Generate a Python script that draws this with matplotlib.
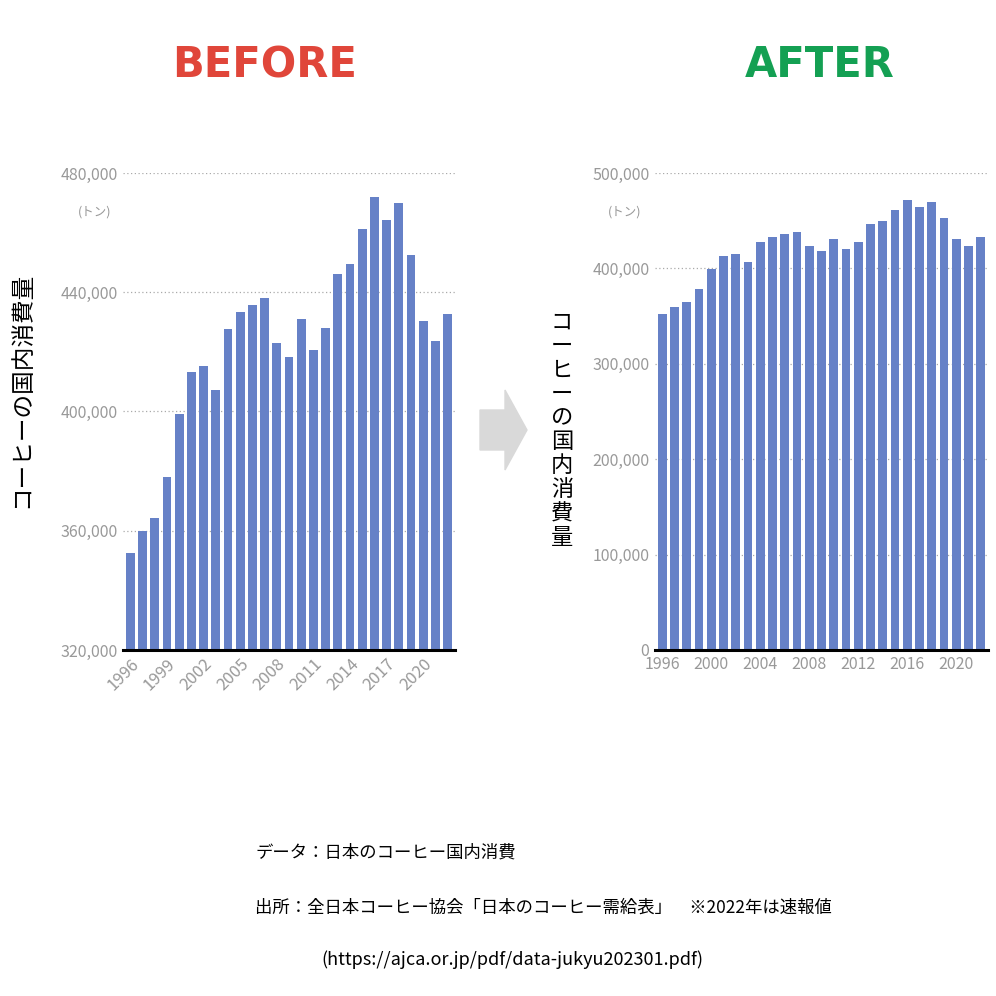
import matplotlib
matplotlib.use("Agg")
import matplotlib.pyplot as plt
from matplotlib.patches import FancyArrow

plt.rcParams['font.family'] = ['Noto Sans CJK JP', 'DejaVu Sans']

years = list(range(1996, 2023))
consumption = [352500, 359900, 364300, 378000, 399200, 413200, 415300, 407200, 427700,
               433400, 435700, 438100, 423000, 418300, 431000, 420600, 428000, 446100,
               449500, 461200, 472000, 464200, 469900, 452500, 430300, 423600, 432700]
before_ticks = [320000, 360000, 400000, 440000, 480000]
after_ticks = [0, 100000, 200000, 300000, 400000, 500000]
before_xticks = list(range(1996, 2023, 3))
after_xticks = list(range(1996, 2023, 4))
ylabel = "コーヒーの国内消費量"

BAR = "#6681C7"
GRAY = "#999999"

fig = plt.figure(figsize=(9.96, 9.96), dpi=100)
W = H = 996

def ax_at(x0, y0, x1, y1):
    return fig.add_axes([x0 / W, 1 - y1 / H, (x1 - x0) / W, (y1 - y0) / H])

def style(ax, ticks):
    ax.set_yticks(ticks)
    ax.set_yticklabels([f"{t:,}" for t in ticks], color=GRAY, fontsize=11.5)
    ax.yaxis.grid(True, linestyle=(0, (1, 2)), color="#aaaaaa", linewidth=0.9)
    ax.set_axisbelow(True)
    for s in ['left', 'right', 'top']:
        ax.spines[s].set_visible(False)
    ax.spines['bottom'].set_linewidth(2.2)
    ax.spines['bottom'].set_color('black')
    ax.tick_params(length=0, pad=4)
    ax.set_xlim(1995.4, 2022.6)

# BEFORE
a1 = ax_at(123, 173, 455, 650)
a1.bar(years, consumption, width=0.72, color=BAR)
a1.set_ylim(320000, 480000)
style(a1, before_ticks)
a1.set_xticks(before_xticks)
a1.set_xticklabels([str(y) for y in before_xticks], rotation=45, ha='right',
                   rotation_mode='anchor', color=GRAY, fontsize=12)
fig.text(22 / W, 1 - 390 / H, ylabel, rotation=90, ha='center', va='center', fontsize=17)
fig.text(95 / W, 1 - 212 / H, "(トン)", ha='center', va='center', fontsize=9, color=GRAY)

# AFTER
a2 = ax_at(655, 173, 988, 650)
a2.bar(years, consumption, width=0.72, color=BAR)
a2.set_ylim(0, 500000)
style(a2, after_ticks)
a2.set_xticks(after_xticks)
a2.set_xticklabels([str(y) for y in after_xticks], color=GRAY, fontsize=11.5)
fig.text(562 / W, 1 - 430 / H, "コ\nー\nヒ\nー\nの\n国\n内\n消\n費\n量",
         ha='center', va='center', fontsize=16, linespacing=1.05)
fig.text(625 / W, 1 - 212 / H, "(トン)", ha='center', va='center', fontsize=9, color=GRAY)

# Titles
fig.text(265 / W, 1 - 65 / H, "BEFORE", ha='center', va='center', fontsize=30,
         fontweight='bold', color="#E0463A", family='DejaVu Sans')
fig.text(820 / W, 1 - 65 / H, "AFTER", ha='center', va='center', fontsize=30,
         fontweight='bold', color="#14A053", family='DejaVu Sans')

# Arrow
fig.patches.append(FancyArrow(480 / W, 1 - 430 / H, 25 / W, 0, width=40 / H, head_width=80 / H,
                              head_length=22 / W, length_includes_head=False,
                              color="#d9d9d9", transform=fig.transFigure))

# Footer
fig.text(255 / W, 1 - 853 / H, "データ：日本のコーヒー国内消費", ha='left', va='center', fontsize=12.5)
fig.text(255 / W, 1 - 908 / H, "出所：全日本コーヒー協会「日本のコーヒー需給表」　※2022年は速報値",
         ha='left', va='center', fontsize=12.5)
fig.text(512 / W, 1 - 960 / H, "(https://ajca.or.jp/pdf/data-jukyu202301.pdf)", ha='center',
         va='center', fontsize=13)

fig.savefig("out.png", dpi=100)
